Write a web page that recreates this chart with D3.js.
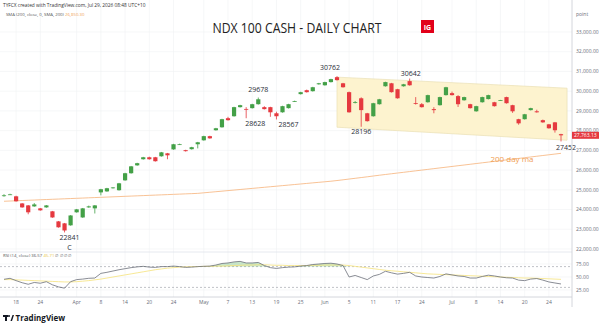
<!DOCTYPE html>
<html lang="en">
<head>
<meta charset="utf-8">
<title>NDX 100 CASH - Daily Chart</title>
<style>
  body { margin: 0; background: #fff; }
  svg { display: block; font-family: "Open Sans", "Noto Sans", sans-serif; }
  .tick-text { font-size: 5px; fill: #6a6d78; }
  .note { font-size: 7px; fill: #2a2e39; }
</style>
</head>
<body>
<svg id="chart" width="602" height="328"></svg>
<script src="https://cdn.jsdelivr.net/npm/d3@7/dist/d3.min.js"></script>
<script>
// Daily candles, 16 Mar - 28 Jul 2026
const open = [24700,24760,24670,24310,24210,24160,24060,24110,23910,23400,
  23300,23200,23860,23600,24110,24060,24870,24920,25080,24980,
  25480,25840,26240,26550,26650,26650,26700,26850,27050,27300,
  27010,27060,27310,27510,27720,28020,28170,28630,28730,29190,
  29100,29140,29340,29190,29190,28880,28930,29140,29480,29850,
  30050,30000,30350,30300,30460,30710,30400,29950,29440,29640,
  28880,28730,29340,30250,30400,30100,30250,30510,29400,29340,
  29440,29090,29290,29800,29900,29750,29540,29340,28980,29440,
  29600,29440,29530,29700,29290,28580,28580,29040,28980,28530,
  28320,28420,27820];
const high = [24780,24800,24700,24330,24230,24330,24080,24230,23930,23420,
  23320,23720,24030,24080,24200,24230,25050,25100,25140,25350,
  25860,26210,26370,26670,26680,26670,26920,26870,27330,27340,
  27030,27180,27430,27740,27740,28140,28600,28700,29210,29310,
  29190,29360,29678,29240,29210,28960,29260,29360,29520,29970,
  30080,30220,30420,30480,30630,30762,30420,29980,29500,29690,
  28900,29410,29610,30480,30420,30120,30370,30642,29700,29400,
  29820,29190,29720,30220,29980,29800,29720,29360,29260,29720,
  29820,29460,29560,29720,29310,28600,28850,29160,29060,28560,
  28340,28440,27840];
const low = [24650,24740,24400,24090,23760,24140,23940,24090,23580,23080,
  22841,23180,23840,23580,24090,23800,24720,24900,25060,24960,
  25460,25820,26220,26530,26530,26430,26680,26550,27030,27280,
  26940,27040,27100,27490,27590,28000,28150,28510,28710,29170,
  28628,29120,29320,29070,28700,28567,28910,29120,29460,29830,
  29930,29980,30330,30280,30440,30540,30180,28910,29380,28196,
  28460,28710,29320,30230,29930,29620,30230,30280,29320,29170,
  29420,28880,29270,29780,29780,29200,29520,29120,28960,29420,
  29580,29220,29520,29370,28900,28300,28560,29020,28910,28400,
  28100,27900,27452];
const close = [24720,24770,24420,24110,23860,24260,23960,24210,23600,23100,
  22940,23700,24010,24060,24160,24210,25030,25080,25120,25330,
  25840,26190,26350,26650,26550,26450,26900,26750,27310,27310,
  26960,27160,27410,27720,27610,28120,28580,28530,29190,29290,
  29090,29340,29590,29090,28930,28730,29240,29340,29500,29950,
  29950,30200,30400,30460,30610,30560,30200,28930,29450,29040,
  28480,29390,29590,30460,29950,29640,30350,30300,29390,29190,
  29800,29040,29700,30200,29800,29340,29700,29140,29240,29700,
  29800,29240,29550,29390,28980,28370,28830,29140,28930,28420,
  28120,28020,27763];

// 200 day simple moving average
const ma200 = [24420,24432,24445,24457,24470,24482,24495,24507,24520,24532,
  24545,24557,24570,24582,24595,24607,24620,24632,24645,24657,
  24670,24682,24695,24707,24720,24732,24745,24757,24770,24782,
  24795,24807,24820,24848,24876,24904,24932,24960,24988,25016,
  25044,25072,25100,25128,25156,25184,25212,25240,25268,25296,
  25324,25352,25380,25408,25436,25470,25508,25546,25584,25622,
  25660,25700,25740,25777,25814,25851,25888,25925,25962,25999,
  26036,26073,26110,26147,26184,26221,26258,26295,26332,26369,
  26406,26443,26480,26517,26554,26591,26628,26665,26702,26739,
  26776,26813,26850];

// RSI (14) and its moving average
const rsi = [45.6,47.5,43,39,36,39.5,38,41,35,31,
  28.5,41,45,46,47.5,48,57,59,61.5,64,
  66,68,69.5,70.5,69,68.5,70,70,71,70,
  68.5,69,70,70.5,71,73,76,77,79,80,
  77,77,78,72,68,66.5,68,69,69.5,71,
  72,74,75,76,76.5,75,72,50,53,49,
  45,52,55,61,58,55.5,57,59,52,50,
  49,48,51,56,54,52,51,48,48,51,
  53.5,52,50,48.5,48,44,43,46,47,44,
  40.5,38.5,36.57];
const rsiMa = [45,45,44.5,44,43.5,43,42.5,42,41.5,41,
  40.5,40.5,41,42,43,44.5,46,48,50,52,
  54,56,58,60,62,64,65.5,67,68,69,
  69.5,70,70,70.5,70.5,71,71,71.5,72,72.5,
  73,73,73.5,73.5,73,72.5,72.5,72,72,72,
  72,72.5,72.5,73,73,73,73,72,70.5,69,
  67.5,66,64.5,63,62,61,60,59,58,57,
  56,55.5,55,54.5,54,53.5,53,52.5,52,51.5,
  51,50.5,50,49.5,49,48.5,48,48,47.5,47,
  46.5,46,45.5];

const dateTicks = [2,6,12,16,20,24,28,33,37,41,45,49,53,57,61,65,69,74,78,82,86,90];
const dateLabels = ["18","24","Apr","8","14","20","24","May","7","13","19","25",
  "Jun","5","11","17","24","Jul","8","14","20","24"];
const priceTicks = [22000,23000,24000,25000,26000,27000,28000,29000,30000,31000,32000,33000];
const rsiTicks = [25,50,75];

// swing-point notes: text, candle index, price, side
const notes = [
  ["22841",10,22841,"below"],["29678",42,29678,"above"],["28628",40,28628,"below"],
  ["28567",45,28567,"below"],["30762",55,30762,"above"],["28196",59,28196,"below"],
  ["30642",67,30642,"above"],["27452",92,27452,"below"]
];
// falling channel: start/end candle index with top and bottom prices
const channelIdx = [55,93];
const channelTop = [30711,30152];
const channelBottom = [28173,27513];

const lastPrice = "27,763.13";

// ---------- layout ----------
const svg = d3.select("#chart");
const axisX = 572;
const green = "#43a047", red = "#e5393f";

const x = d3.scaleLinear().domain([0, 92]).range([4, 561]);
const y = d3.scaleLinear().domain([22000, 33000]).range([249, 32]);
const yr = d3.scaleLinear().domain([25, 75]).range([290, 264]);

// grid
const grid = svg.append("g").attr("stroke", "#f0f1f4").attr("stroke-width", 0.6);
grid.selectAll("line.h").data(priceTicks).join("line")
  .attr("x1", 0).attr("x2", axisX).attr("y1", d => y(d)).attr("y2", d => y(d));
grid.selectAll("line.r").data(rsiTicks).join("line")
  .attr("x1", 0).attr("x2", axisX).attr("y1", d => yr(d)).attr("y2", d => yr(d));
grid.selectAll("line.v").data(dateTicks).join("line")
  .attr("x1", d => x(d)).attr("x2", d => x(d)).attr("y1", 0).attr("y2", 297);

// channel
const cPts = [[x(channelIdx[0]), y(channelTop[0])], [x(channelIdx[1]), y(channelTop[1])],
  [x(channelIdx[1]), y(channelBottom[1])], [x(channelIdx[0]), y(channelBottom[0])]];
svg.append("path")
  .attr("d", "M" + cPts.join("L") + "Z")
  .attr("fill", "#fdf3cf").attr("stroke", "#eadfb5").attr("stroke-width", 0.7);

// 200 day MA
svg.append("path")
  .datum(ma200)
  .attr("fill", "none").attr("stroke", "#f6b27a").attr("stroke-width", 0.8)
  .attr("d", d3.line().x((d, i) => x(i)).y(d => y(d)));

// candles
const bw = 4.2;
const candles = svg.append("g").selectAll("g").data(open).join("g")
  .attr("fill", (d, i) => close[i] >= open[i] ? green : red)
  .attr("stroke", (d, i) => close[i] >= open[i] ? green : red);
candles.append("line")
  .attr("x1", (d, i) => x(i)).attr("x2", (d, i) => x(i))
  .attr("y1", (d, i) => y(high[i])).attr("y2", (d, i) => y(low[i]))
  .attr("stroke-width", 0.8);
candles.append("rect")
  .attr("x", (d, i) => x(i) - bw / 2).attr("width", bw)
  .attr("y", (d, i) => y(Math.max(open[i], close[i])))
  .attr("height", (d, i) => Math.max(0.8, Math.abs(y(open[i]) - y(close[i]))))
  .attr("stroke", "none");

// notes
const noteShift = {"30762": [-7, -6], "29678": [0, -6], "28628": [9, 8], "28567": [12, 8],
  "28196": [0, 7], "30642": [1, -3], "27452": [5, 9], "22841": [5, 8]};
svg.append("g").selectAll("text").data(notes).join("text")
  .attr("class", "note").attr("text-anchor", "middle")
  .attr("x", d => x(d[1]) + noteShift[d[0]][0])
  .attr("y", d => y(d[2]) + noteShift[d[0]][1])
  .text(d => d[0]);
svg.append("text").attr("class", "note").attr("text-anchor", "middle")
  .attr("x", x(10) + 5).attr("y", y(22841) + 18).text("C");

svg.append("text").attr("x", 512).attr("y", 162).attr("text-anchor", "middle")
  .attr("font-size", 8).attr("fill", "#f0a055").text("200 day ma");

// title + IG logo
svg.append("text").attr("x", 297).attr("y", 32.5).attr("text-anchor", "middle")
  .attr("font-size", 14).attr("fill", "#222").attr("textLength", 169)
  .attr("lengthAdjust", "spacingAndGlyphs").text("NDX 100 CASH - DAILY CHART");
svg.append("rect").attr("x", 421).attr("y", 20).attr("width", 13).attr("height", 13).attr("fill", "#e2001a");
svg.append("text").attr("x", 427.5).attr("y", 29.5).attr("text-anchor", "middle")
  .attr("font-size", 7).attr("font-weight", "bold").attr("fill", "#fff").text("IG");

// header legend
svg.append("text").attr("x", 3).attr("y", 6.5).attr("font-size", 4.8).attr("fill", "#333")
  .text("TYFCX created with TradingView.com, Jul 29, 2026 08:48 UTC+10");
const leg = svg.append("text").attr("x", 6).attr("y", 15.5).attr("font-size", 4.3).attr("fill", "#555");
leg.append("tspan").text("SMA (200, close, 0, SMA, 200)  ");
leg.append("tspan").attr("fill", "#f0a055").text("26,850.30");

// pane separator and axes
svg.append("line").attr("x1", 0).attr("x2", axisX).attr("y1", 252).attr("y2", 252)
  .attr("stroke", "#e0e3eb").attr("stroke-width", 0.8);
svg.append("line").attr("x1", 0).attr("x2", axisX).attr("y1", 297).attr("y2", 297)
  .attr("stroke", "#c9ccd3").attr("stroke-width", 0.8);
svg.append("line").attr("x1", axisX).attr("x2", axisX).attr("y1", 0).attr("y2", 307)
  .attr("stroke", "#c9ccd3").attr("stroke-width", 0.8);

svg.append("g").selectAll("text").data(priceTicks).join("text")
  .attr("class", "tick-text").attr("x", 576).attr("y", d => y(d) + 1.7)
  .text(d => d3.format(",.2f")(d));
svg.append("text").attr("class", "tick-text").attr("x", 576).attr("y", 16).text("point");
svg.append("g").selectAll("text").data(rsiTicks).join("text")
  .attr("class", "tick-text").attr("x", 576).attr("y", d => yr(d) + 1.7)
  .text(d => d3.format(".2f")(d));
svg.append("g").selectAll("text").data(dateTicks).join("text")
  .attr("class", "tick-text").attr("text-anchor", "middle")
  .attr("x", d => x(d)).attr("y", 304)
  .text((d, i) => dateLabels[i]);

// last price tag
svg.append("rect").attr("x", axisX).attr("y", y(27763) - 3.5).attr("width", 27).attr("height", 7).attr("fill", red);
svg.append("text").attr("x", axisX + 2).attr("y", y(27763) + 1.7).attr("font-size", 5)
  .attr("fill", "#fff").text(lastPrice);

// RSI pane
[70, 30].forEach(v => svg.append("line").attr("x1", 0).attr("x2", axisX)
  .attr("y1", yr(v)).attr("y2", yr(v)).attr("stroke", "#9598a1")
  .attr("stroke-width", 0.6).attr("stroke-dasharray", "2,2"));
svg.append("path").datum(rsi)
  .attr("fill", "rgba(76,175,80,0.3)")
  .attr("d", d3.area().x((d, i) => x(i)).y0(yr(70)).y1(d => yr(Math.max(d, 70))));
svg.append("path").datum(rsiMa)
  .attr("fill", "none").attr("stroke", "#f5e27a").attr("stroke-width", 0.8)
  .attr("d", d3.line().x((d, i) => x(i)).y(d => yr(d)));
svg.append("path").datum(rsi)
  .attr("fill", "none").attr("stroke", "#6b6e78").attr("stroke-width", 0.8)
  .attr("d", d3.line().x((d, i) => x(i)).y(d => yr(d)));
const rl = svg.append("text").attr("x", 3).attr("y", 256.5).attr("font-size", 4.3).attr("fill", "#555");
rl.append("tspan").text("RSI (14, close)  36.57  ");
rl.append("tspan").attr("fill", "#e8c53a").text("45.71");
rl.append("tspan").text("  \u2205  \u2205  \u2205  \u2205");

// TradingView mark
const tv = svg.append("g").attr("fill", "#131722");
tv.append("rect").attr("x", 3).attr("y", 315).attr("width", 5).attr("height", 2);
tv.append("rect").attr("x", 5).attr("y", 315).attr("width", 2).attr("height", 6);
tv.append("circle").attr("cx", 9).attr("cy", 316).attr("r", 1);
tv.append("path").attr("d", "M10.5,321 L12.5,315 L14,315 L12,321 Z");
tv.append("text").attr("x", 15.5).attr("y", 321).attr("font-size", 8).attr("font-weight", "bold")
  .text("TradingView");
</script>
</body>
</html>
